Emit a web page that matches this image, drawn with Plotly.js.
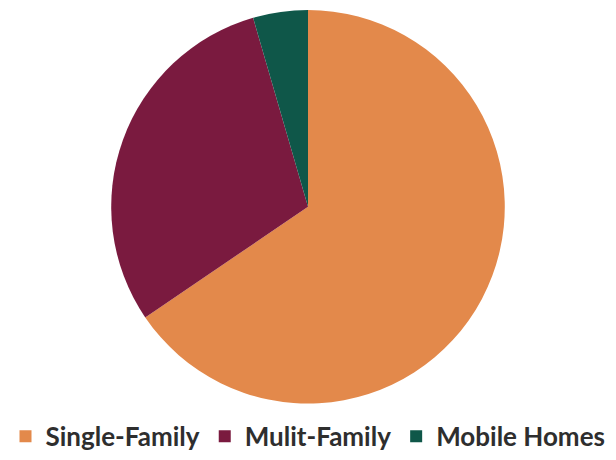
<!DOCTYPE html>
<html>
<head>
<meta charset="utf-8">
<script src="https://cdn.plot.ly/plotly-3.0.1.min.js"></script>
<style>html,body{margin:0;padding:0;background:#fff;}#chart{width:616px;height:460px;}</style>
</head>
<body>
<div id="chart"></div>
<script>
const categories = ["Single-Family", "Mulit-Family", "Mobile Homes"];
const shares = [65.5, 30.0, 4.5];
const colors = ["#E3894B", "#7A1A3F", "#0F5749"];

const data = [{
  type: "pie",
  labels: categories,
  values: shares,
  sort: false,
  direction: "clockwise",
  rotation: 0,
  marker: {colors: colors, line: {width: 0}},
  textinfo: "none",
  hoverinfo: "none",
  domain: {x: [0, 1], y: [0.113, 0.978]}
}];

const layout = {
  width: 616,
  height: 460,
  margin: {l: 0, r: 0, t: 0, b: 0},
  paper_bgcolor: "#ffffff",
  showlegend: true,
  legend: {
    orientation: "h",
    x: 0.5,
    xanchor: "center",
    y: 0.041,
    yanchor: "middle",
    font: {family: "Lato, 'Open Sans', sans-serif", size: 26, color: "#2e2e2e", weight: "bold"},
    itemwidth: 30,
    traceorder: "normal"
  }
};

Plotly.newPlot("chart", data, layout, {displayModeBar: false, staticPlot: true});
</script>
</body>
</html>
